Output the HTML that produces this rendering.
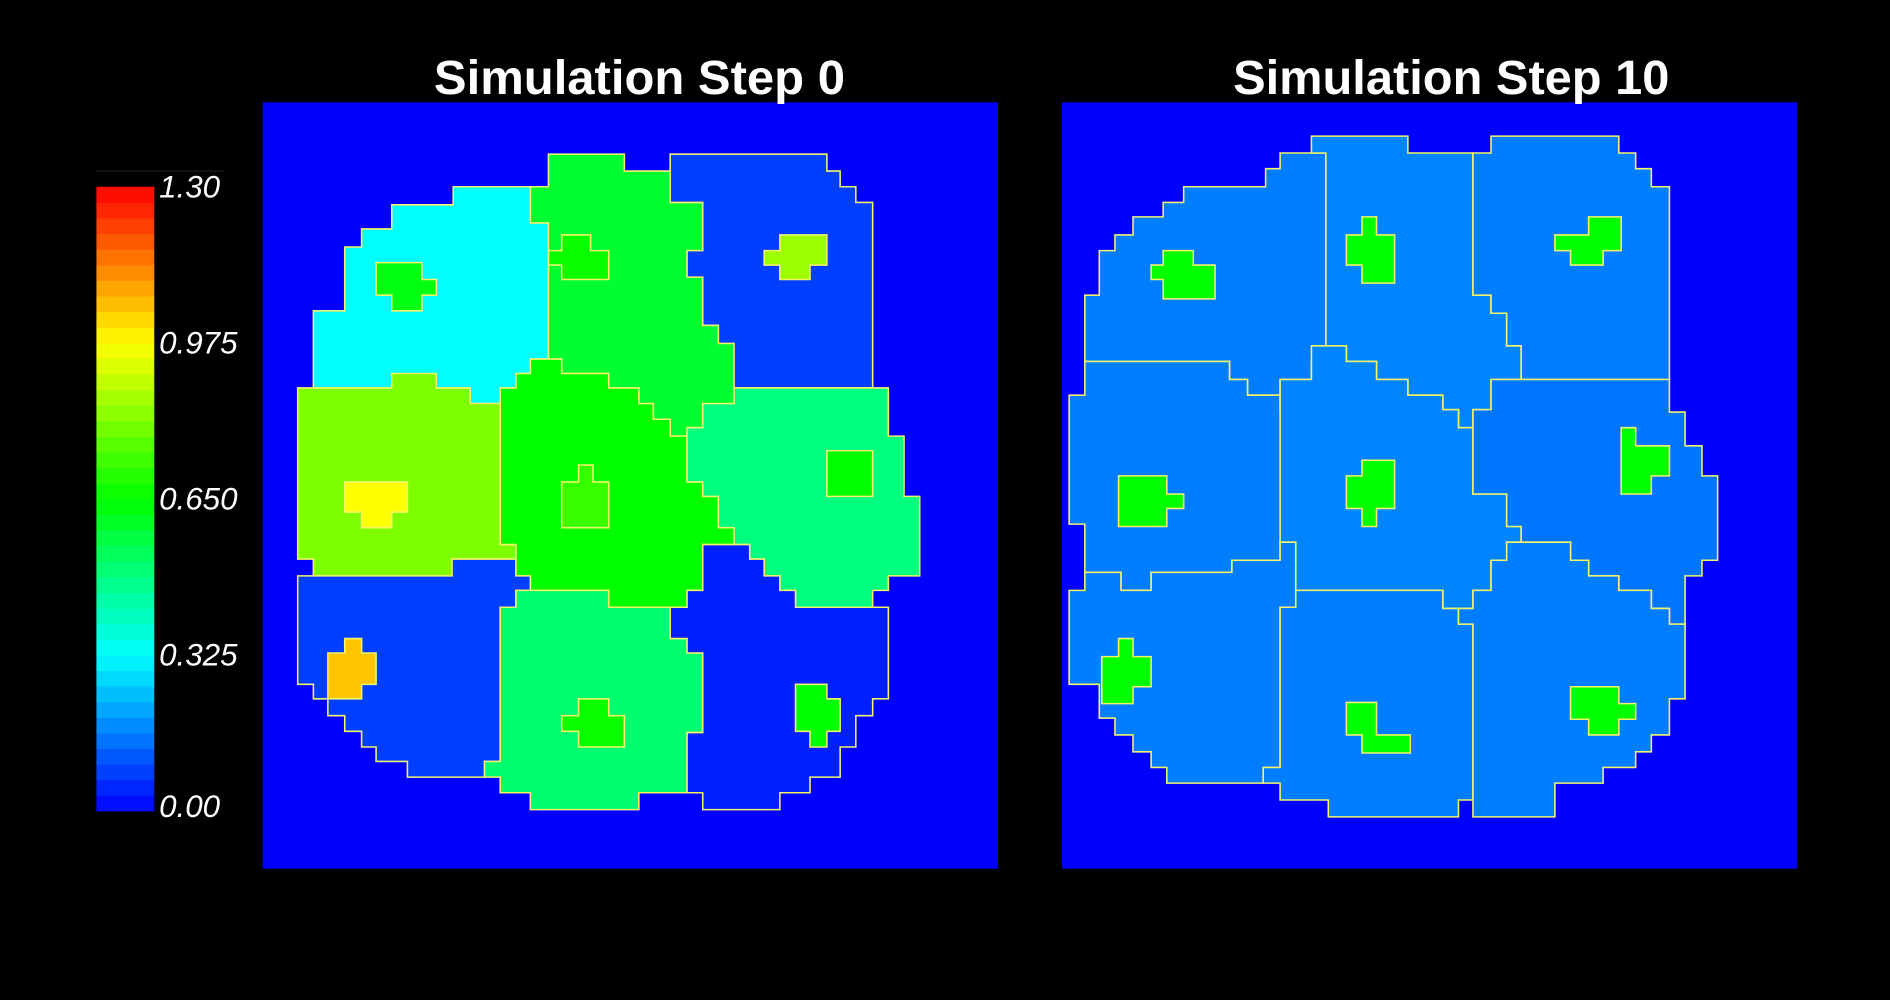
<!DOCTYPE html>
<html><head><meta charset="utf-8"><style>
html,body{margin:0;padding:0;background:#000;width:1890px;height:1000px;overflow:hidden}
svg{display:block}
text{font-family:"Liberation Sans",sans-serif;fill:#fff}
</style></head><body>
<svg id="chart" width="1890" height="1000" viewBox="0 0 1568 830" preserveAspectRatio="none" xmlns="http://www.w3.org/2000/svg">
<rect width="1568" height="830" fill="#000"/>
<g id="colorbar"></g>
<g id="p0"></g>
<g id="p1"></g>
<text x="360" y="78" font-size="40" font-weight="bold" textLength="341" lengthAdjust="spacingAndGlyphs">Simulation Step 0</text>
<text x="1023" y="78" font-size="40" font-weight="bold" textLength="362" lengthAdjust="spacingAndGlyphs">Simulation Step 10</text>
</svg>
<script>
// colour scale domain and colourbar ticks
const vmin = 0, vmax = 1.3;
const tickValues = [0, 0.325, 0.65, 0.975, 1.3];
const tickLabels = ["0.00", "0.325", "0.650", "0.975", "1.30"];
// cell values (step 0): TL, TM, TR, ML, C, MR, BL, BM, BR
const cellValuesStep0 = [0.325, 0.59, 0.08, 0.81, 0.65, 0.49, 0.08, 0.51, 0.04];
const nucleusValuesStep0 = [0.63, 0.66, 0.85, 0.975, 0.72, 0.65, 1.05, 0.66, 0.65];
// cell values (step 10)
const cellValuesStep10 = [0.16, 0.17, 0.16, 0.16, 0.17, 0.15, 0.16, 0.16, 0.16];
const nucleusValuesStep10 = [0.65, 0.65, 0.65, 0.65, 0.65, 0.65, 0.65, 0.65, 0.65];

const NS = "http://www.w3.org/2000/svg";
function colorOf(v){
  let t = Math.max(0, Math.min(1, (v - vmin) / (vmax - vmin))) * 4;
  let r, g, b;
  if (t < 1) { r = 0; g = 255 * t; b = 255; }
  else if (t < 2) { r = 0; g = 255; b = 255 * (2 - t); }
  else if (t < 3) { r = 255 * (t - 2); g = 255; b = 0; }
  else { r = 255; g = 255 * (4 - t); b = 0; }
  return `rgb(${Math.round(r)},${Math.round(g)},${Math.round(b)})`;
}
const P = s => s.trim().split(/\s+/).map(p => p.split(',').map(Number));
const cellsA = [
P("260,322 390,322 390,335 415,335 415,322 428,322 428,310 440,310 440,298 455,298 455,185 440,185 440,155 376,155 376,170 325,170 325,190 300,190 300,205 286,205 286,258 260,258"),
P("440,155 455,155 455,128 518,128 518,142 556,142 556,168 583,168 583,208 570,208 570,230 583,230 583,270 596,270 596,285 609,285 609,335 583,335 583,355 570,355 570,362 556,362 556,348 542,348 542,335 530,335 530,322 505,322 505,310 466,310 466,298 455,298 455,185 440,185"),
P("556,128 686,128 686,142 697,142 697,155 710,155 710,168 724,168 724,322 609,322 609,285 596,285 596,270 583,270 583,230 570,230 570,208 583,208 583,168 556,168"),
P("247,322 325,322 325,310 362,310 362,322 390,322 390,335 415,335 415,452 428,452 428,464 375,464 375,478 260,478 260,464 247,464"),
P("415,322 428,322 428,310 440,310 440,298 466,298 466,310 505,310 505,322 530,322 530,335 542,335 542,348 556,348 556,362 570,362 570,400 583,400 583,412 596,412 596,438 609,438 609,452 583,452 583,490 570,490 570,504 505,504 505,490 440,490 440,478 428,478 428,452 415,452"),
P("570,362 570,355 583,355 583,335 609,335 609,322 737,322 737,362 750,362 750,412 763,412 763,478 737,478 737,490 724,490 724,504 660,504 660,490 647,490 647,478 634,478 634,464 622,464 622,452 609,452 609,438 596,438 596,412 583,412 583,400 570,400"),
P("247,478 260,478 375,478 375,464 428,464 428,478 440,478 440,490 428,490 428,504 415,504 415,632 402,632 402,645 338,645 338,632 312,632 312,620 300,620 300,607 286,607 286,594 272,594 272,580 260,580 260,568 247,568"),
P("428,504 428,490 440,490 505,490 505,504 556,504 556,530 570,530 570,542 583,542 583,608 570,608 570,658 530,658 530,672 440,672 440,658 415,658 415,645 402,645 402,632 415,632 415,504"),
P("556,504 570,504 570,490 583,490 583,452 622,452 622,464 634,464 634,478 647,478 647,490 660,490 660,504 737,504 737,580 724,580 724,594 710,594 710,620 697,620 697,645 672,645 672,658 647,658 647,672 583,672 583,658 570,658 570,608 583,608 583,542 570,542 570,530 556,530")];
const nucA = [
P("312,218 350,218 350,232 362,232 362,245 350,245 350,258 325,258 325,245 312,245"),
P("466,195 490,195 490,208 505,208 505,232 466,232 466,220 455,220 455,208 466,208"),
P("647,195 686,195 686,220 672,220 672,232 647,232 647,220 634,220 634,208 647,208"),
P("286,400 338,400 338,425 325,425 325,438 300,438 300,425 286,425"),
P("480,386 492,386 492,400 505,400 505,438 466,438 466,400 480,400"),
P("686,374 724,374 724,412 686,412"),
P("286,530 300,530 300,542 312,542 312,568 300,568 300,580 272,580 272,542 286,542"),
P("480,580 505,580 505,594 518,594 518,620 480,620 480,607 466,607 466,594 480,594"),
P("660,568 686,568 686,580 697,580 697,607 686,607 686,620 672,620 672,607 660,607")];
const cellsB = [
P("900,300 900,245 912,245 912,208 925,208 925,195 940,195 940,180 965,180 965,168 982,168 982,155 1050,155 1050,140 1062,140 1062,127 1088,127 1100,127 1100,300 1088,300 1088,315 1062,315 1062,328 1035,328 1035,315 1020,315 1020,300"),
P("1088,127 1088,113 1168,113 1168,127 1222,127 1222,245 1237,245 1237,260 1250,260 1250,287 1262,287 1262,315 1237,315 1237,340 1222,340 1222,355 1210,355 1210,340 1197,340 1197,328 1168,328 1168,315 1142,315 1142,300 1117,300 1117,287 1100,287 1100,127"),
P("1222,127 1237,127 1237,113 1343,113 1343,127 1357,127 1357,140 1370,140 1370,155 1385,155 1385,315 1262,315 1262,287 1250,287 1250,260 1237,260 1237,245 1222,245"),
P("887,435 887,328 900,328 900,300 1020,300 1020,315 1035,315 1035,328 1062,328 1062,342 1075,342 1075,450 1062,450 1062,465 1022,465 1022,475 955,475 955,490 930,490 930,475 900,475 900,435"),
P("1062,342 1062,315 1088,315 1088,287 1117,287 1117,300 1142,300 1142,315 1168,315 1168,328 1197,328 1197,340 1210,340 1210,355 1222,355 1222,410 1250,410 1250,437 1262,437 1262,450 1250,450 1250,465 1237,465 1237,490 1222,490 1222,505 1197,505 1197,490 1075,490 1075,450 1062,450"),
P("1222,355 1222,340 1237,340 1237,315 1385,315 1385,342 1398,342 1398,370 1412,370 1412,395 1425,395 1425,465 1412,465 1412,478 1398,478 1398,518 1385,518 1385,505 1370,505 1370,490 1343,490 1343,478 1318,478 1318,465 1303,465 1303,450 1262,450 1262,437 1250,437 1250,410 1222,410"),
P("887,568 887,490 900,490 900,475 930,475 930,490 955,490 955,475 1022,475 1022,465 1062,465 1062,450 1075,450 1075,504 1062,504 1062,637 1048,637 1048,650 968,650 968,637 955,637 955,624 940,624 940,610 925,610 925,596 912,596 912,568"),
P("1075,490 1197,490 1197,505 1210,505 1210,518 1222,518 1222,664 1210,664 1210,678 1102,678 1102,664 1062,664 1062,650 1048,650 1048,637 1062,637 1062,504 1075,504"),
P("1210,518 1210,505 1222,505 1222,490 1237,490 1237,465 1250,465 1250,450 1303,450 1303,465 1318,465 1318,478 1343,478 1343,490 1370,490 1370,505 1385,505 1385,518 1398,518 1398,580 1385,580 1385,610 1370,610 1370,624 1357,624 1357,637 1330,637 1330,650 1290,650 1290,678 1222,678 1222,518")];
const nucB = [
P("965,208 990,208 990,220 1008,220 1008,248 965,248 965,232 955,232 955,220 965,220"),
P("1130,180 1142,180 1142,195 1157,195 1157,235 1130,235 1130,220 1117,220 1117,195 1130,195"),
P("1318,180 1345,180 1345,208 1330,208 1330,220 1303,220 1303,208 1290,208 1290,195 1318,195"),
P("928,395 968,395 968,410 982,410 982,422 968,422 968,437 928,437"),
P("1130,382 1157,382 1157,422 1142,422 1142,437 1130,437 1130,422 1117,422 1117,395 1130,395"),
P("1345,355 1357,355 1357,370 1385,370 1385,395 1370,395 1370,410 1345,410"),
P("928,530 940,530 940,545 955,545 955,570 940,570 940,584 914,584 914,545 928,545"),
P("1117,583 1142,583 1142,610 1170,610 1170,625 1130,625 1130,610 1117,610"),
P("1303,570 1343,570 1343,584 1357,584 1357,597 1343,597 1343,610 1318,610 1318,597 1303,597")];

function drawPanel(g, x, cells, cv, nuc, nv, tag){
  const bg = document.createElementNS(NS, 'rect');
  
  
  bg.setAttribute('x', x); bg.setAttribute('y', 85); bg.setAttribute('width', 610); bg.setAttribute('height', 636);
  bg.setAttribute('fill', colorOf(vmin));
  g.appendChild(bg);
  cells.forEach((pts, i) => {
    const p = document.createElementNS(NS, 'polygon');
    
    
    p.setAttribute('points', pts.map(q => q.join(',')).join(' '));
    p.setAttribute('fill', colorOf(cv[i]));
    p.setAttribute('stroke', '#f4f46a'); p.setAttribute('stroke-width', '1.3');
    g.appendChild(p);
  });
  nuc.forEach((pts, i) => {
    const p = document.createElementNS(NS, 'polygon');
    
    
    p.setAttribute('points', pts.map(q => q.join(',')).join(' '));
    p.setAttribute('fill', colorOf(nv[i]));
    p.setAttribute('stroke', '#f4f46a'); p.setAttribute('stroke-width', '1.3');
    g.appendChild(p);
  });
}
drawPanel(document.getElementById('p0'), 218, cellsA, cellValuesStep0, nucA, nucleusValuesStep0, 's0');
drawPanel(document.getElementById('p1'), 881, cellsB, cellValuesStep10, nucB, nucleusValuesStep10, 's10');

// colourbar
const cbX = 80, cbW = 48, cbTop = 155, cbBot = 673;
const yScale = v => cbBot - (v - vmin) / (vmax - vmin) * (cbBot - cbTop);
const cb = document.getElementById('colorbar');
const nSteps = 40;
for (let i = 0; i < nSteps; i++) {
  const v0 = vmin + (vmax - vmin) * i / nSteps, v1 = vmin + (vmax - vmin) * (i + 1) / nSteps;
  const r = document.createElementNS(NS, 'rect');
  
  
  r.setAttribute('x', cbX); r.setAttribute('width', cbW);
  r.setAttribute('y', yScale(v1)); r.setAttribute('height', yScale(v0) - yScale(v1) + 0.5);
  r.setAttribute('fill', colorOf((v0 + v1) / 2));
  cb.appendChild(r);
}
const topLine = document.createElementNS(NS, 'line');


topLine.setAttribute('x1', 80); topLine.setAttribute('x2', 186); topLine.setAttribute('y1', 142); topLine.setAttribute('y2', 142);
topLine.setAttribute('stroke', '#222');
cb.appendChild(topLine);
tickValues.forEach((v, i) => {
  const t = document.createElementNS(NS, 'text');
  
  
  t.setAttribute('x', 132);
  t.setAttribute('y', i === 0 ? yScale(v) + 5 : yScale(v) + 9);
  t.setAttribute('font-size', '26');
  t.setAttribute('font-style', 'italic');
  t.textContent = tickLabels[i];
  cb.appendChild(t);
});
</script>
</body></html>
